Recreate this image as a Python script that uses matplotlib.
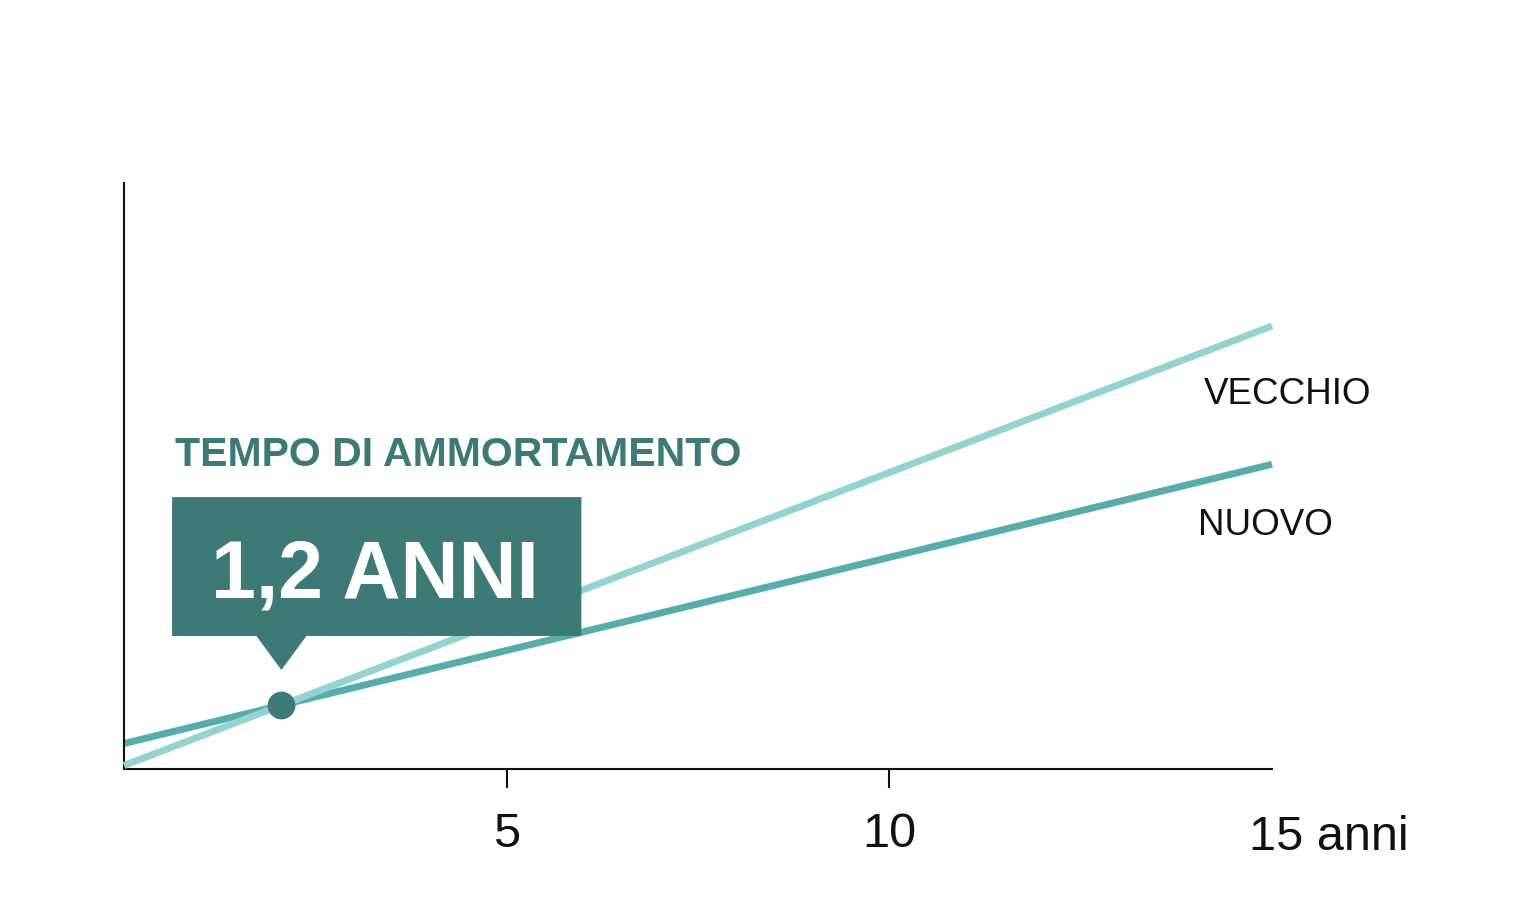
import numpy as np
import matplotlib.pyplot as plt
from matplotlib.patches import Polygon

# dati (anni, costo cumulato in scala relativa 0-100)
anni = [0, 15]
vecchio = [0.6, 75.6]
nuovo = [4.35, 52.0]
tick_anni = [5, 10]
tick_labels = ['5', '10']
etichetta_15 = '15 anni'
titolo_box = 'TEMPO DI AMMORTAMENTO'
valore_box = '1,2 ANNI'

c_vecchio = '#94d3cf'
c_nuovo = '#58adac'
c_scuro = '#3d7975'

plt.rcParams['font.family'] = ['Liberation Sans', 'DejaVu Sans']

fig = plt.figure(figsize=(15.36, 9.18), dpi=100)
ax = fig.add_axes([124 / 1536, 1 - 769 / 918, (1272 - 124) / 1536, (769 - 183) / 918])

ax.plot(anni, vecchio, color=c_vecchio, lw=5, solid_capstyle='butt', clip_on=False, zorder=3)
ax.plot(anni, nuovo, color=c_nuovo, lw=5, solid_capstyle='butt', clip_on=False, zorder=2)

# punto di pareggio = intersezione delle due rette
m_v = (vecchio[1] - vecchio[0]) / (anni[1] - anni[0])
m_n = (nuovo[1] - nuovo[0]) / (anni[1] - anni[0])
x_p = (nuovo[0] - vecchio[0]) / (m_v - m_n)
y_p = vecchio[0] + m_v * x_p
ax.scatter([x_p], [y_p], s=400, color=c_scuro, zorder=5, clip_on=False, linewidths=0)

ax.set_xlim(0, 15)
ax.set_ylim(0, 100)

# box con freccia
x0, x1 = 0.628, 5.976
y0, y1 = 22.7, 46.4
tip = 16.9
hw = 0.327
box = Polygon([(x0, y0), (x_p - hw, y0), (x_p, tip), (x_p + hw, y0), (x1, y0),
               (x1, y1), (x0, y1)], closed=True, facecolor=c_scuro,
              edgecolor='none', zorder=6, clip_on=False)
ax.add_patch(box)
ax.text((x0 + x1) / 2 - 0.02, 29.3, valore_box, color='white', fontsize=58,
        fontweight='bold', ha='center', va='baseline', zorder=7)
ax.text(0.667, 51.7, titolo_box, color=c_scuro, fontsize=29.5,
        fontweight='bold', ha='left', va='baseline', zorder=7)

ax.text(14.11, 62.3, 'VECCHIO', fontsize=26.5, ha='left', va='baseline', color='#111111')
ax.text(14.03, 39.9, 'NUOVO', fontsize=26.5, ha='left', va='baseline', color='#111111')

# assi
for s in ['top', 'right']:
    ax.spines[s].set_visible(False)
for s in ['left', 'bottom']:
    ax.spines[s].set_linewidth(1.5)
    ax.spines[s].set_color('#111111')
ax.set_yticks([])
ax.set_xticks(tick_anni)
ax.set_xticklabels(tick_labels)
ax.tick_params(axis='x', length=14, width=1.5, direction='out', labelsize=35,
               pad=17, colors='#111111')
ax.text(14.70, -13.8, etichetta_15, fontsize=35, ha='left', va='baseline',
        color='#111111', clip_on=False)

fig.savefig('out.png', dpi=100, facecolor='white')
